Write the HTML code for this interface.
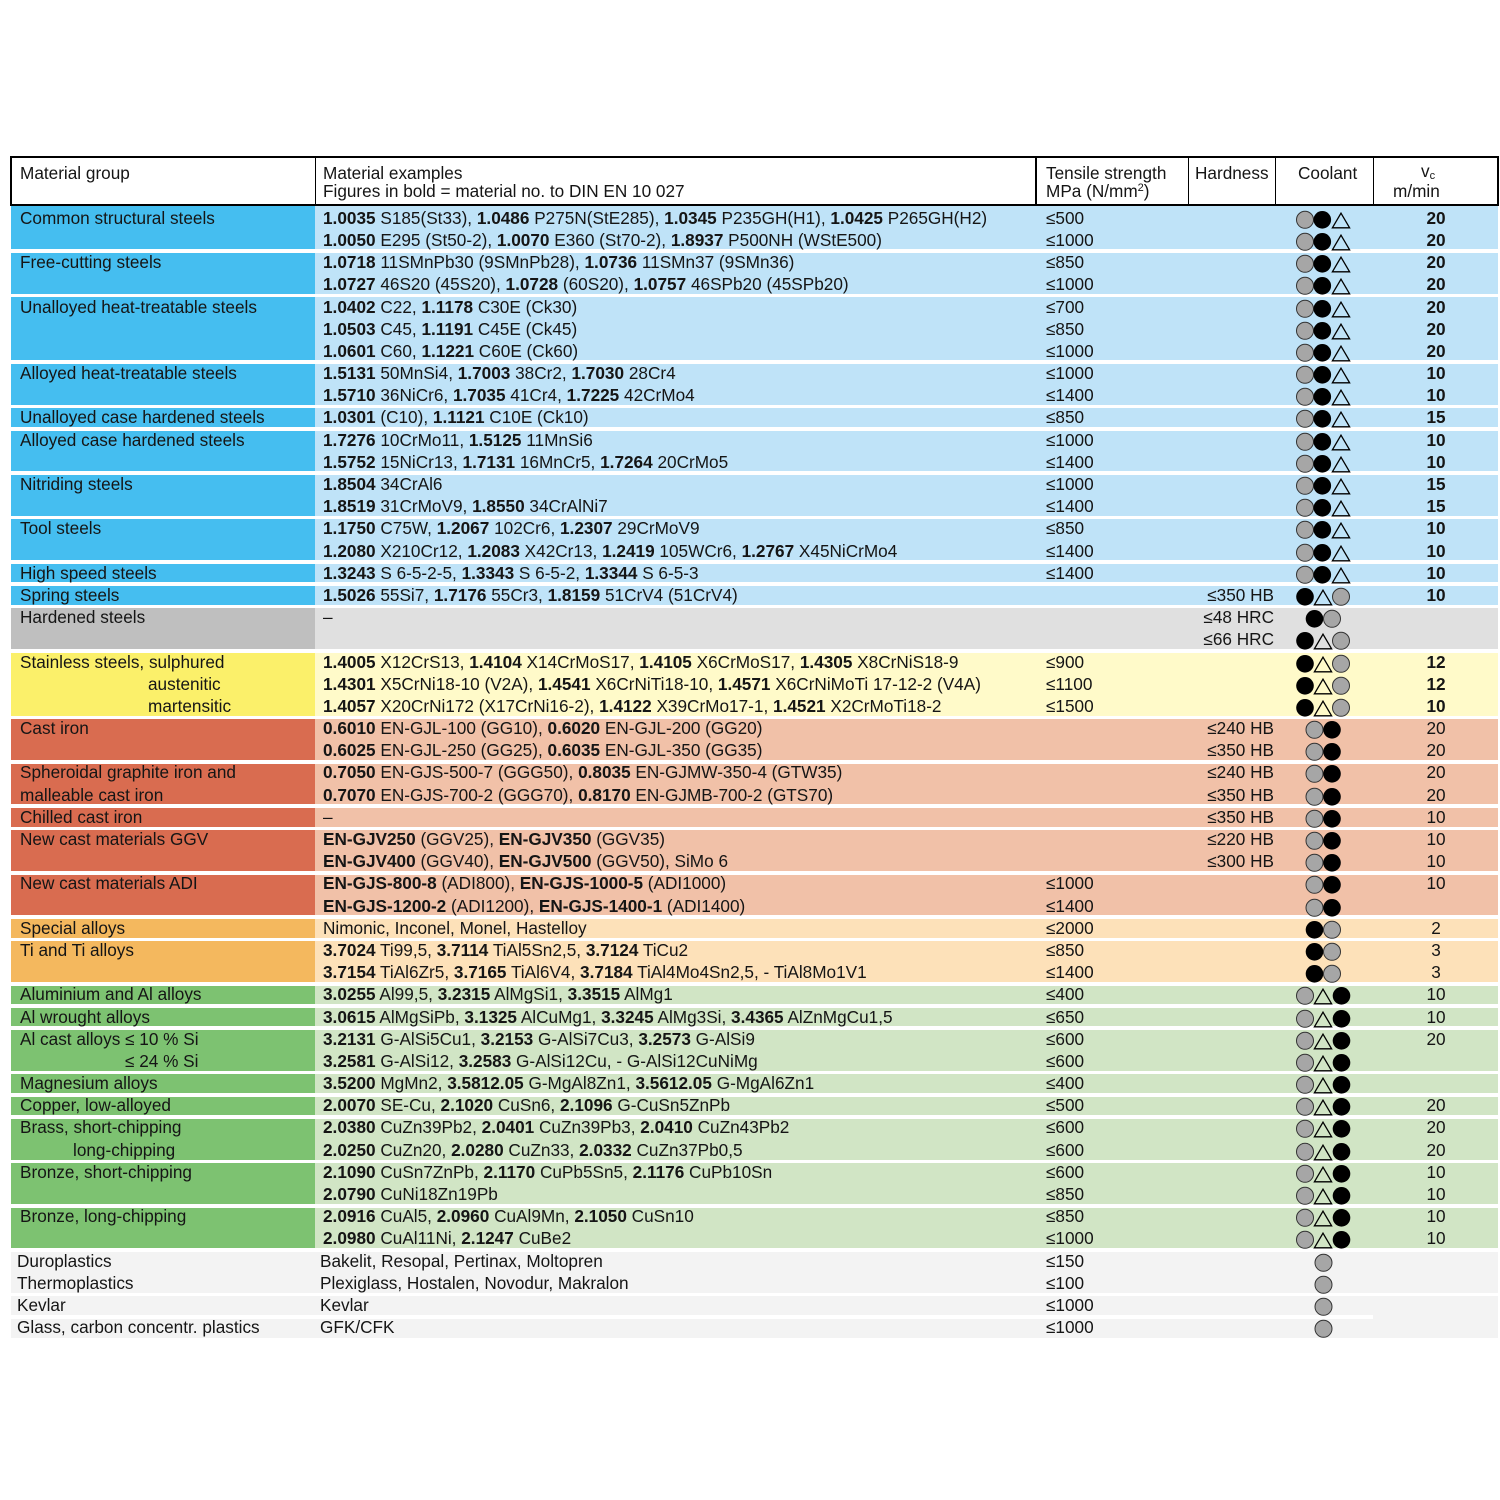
<!DOCTYPE html>
<html><head><meta charset="utf-8">
<style>
html,body{margin:0;padding:0;background:#fff;}
body{width:1500px;height:1500px;position:relative;overflow:hidden;font-family:"Liberation Sans",Arial,sans-serif;font-size:17.2px;color:#151515;}
.bg{position:absolute;}
.bl{left:11px;width:304px;}
.br{left:315px;width:1183px;}
.s1{background:#45bef0}.s2{background:#bfe3f8}
.h1{background:#bfbfbf}.h2{background:#e0e0e0}
.y1{background:#fbf06a}.y2{background:#fffac9}
.c1{background:#d96c50}.c2{background:#f1c1a8}
.o1{background:#f4b85e}.o2{background:#fde1b9}
.g1{background:#7dc271}.g2{background:#d1e5c5}
.p{background:#f3f3f3}
#hd{position:absolute;left:10px;top:156px;width:1485px;height:46px;border:2px solid #000;background:#fff;}
.vl{position:absolute;top:157px;height:48px;width:1.5px;background:#000;}
.ht{position:absolute;top:165.3px;line-height:17.5px;white-space:nowrap;}
#rows{position:absolute;left:0;top:206.8px;width:1500px;}
.r{position:relative;height:22.2px;line-height:22.2px;white-space:nowrap;}
.r>span{position:absolute;top:0;}
.g{left:20px}.e{left:323px}.t{left:1046px}
.h{right:226px}
.v{left:1373px;width:126px;text-align:center}
.vb{font-weight:bold}
.pl .g{left:17px}.pl .e{left:320px}
svg.c{position:absolute;left:1290px;top:0;overflow:visible}
sup{font-size:11px;vertical-align:6px;line-height:0}
sub{font-size:11px;vertical-align:-2px;line-height:0}
</style></head><body>

<!-- header -->
<div id="hd"></div>
<div class="vl" style="left:314.5px"></div>
<div class="vl" style="left:1035px"></div>
<div class="vl" style="left:1187.5px"></div>
<div class="vl" style="left:1274.5px"></div>
<div class="vl" style="left:1372.5px"></div>
<div class="ht" style="left:20px">Material group</div>
<div class="ht" style="left:323px">Material examples<br>Figures in bold = material no. to DIN EN 10 027</div>
<div class="ht" style="left:1046px">Tensile strength<br>MPa (N/mm<sup>2</sup>)</div>
<div class="ht" style="left:1195px">Hardness</div>
<div class="ht" style="left:1298px">Coolant</div>
<div class="ht" style="left:1421px;top:163px">v<sub>c</sub></div>
<div class="ht" style="left:1393px;top:183px">m/min</div>

<!-- backgrounds -->
<div class="bg bl s1" style="top:206px;height:43.45px"></div><div class="bg br s2" style="top:206px;height:43.45px"></div>
<div class="bg bl s1" style="top:252.95px;height:40.9px"></div><div class="bg br s2" style="top:252.95px;height:40.9px"></div>
<div class="bg bl s1" style="top:297.35px;height:63.1px"></div><div class="bg br s2" style="top:297.35px;height:63.1px"></div>
<div class="bg bl s1" style="top:363.95px;height:40.9px"></div><div class="bg br s2" style="top:363.95px;height:40.9px"></div>
<div class="bg bl s1" style="top:408.35px;height:18.7px"></div><div class="bg br s2" style="top:408.35px;height:18.7px"></div>
<div class="bg bl s1" style="top:430.55px;height:40.9px"></div><div class="bg br s2" style="top:430.55px;height:40.9px"></div>
<div class="bg bl s1" style="top:474.95px;height:40.9px"></div><div class="bg br s2" style="top:474.95px;height:40.9px"></div>
<div class="bg bl s1" style="top:519.35px;height:40.9px"></div><div class="bg br s2" style="top:519.35px;height:40.9px"></div>
<div class="bg bl s1" style="top:563.75px;height:18.7px"></div><div class="bg br s2" style="top:563.75px;height:18.7px"></div>
<div class="bg bl s1" style="top:585.95px;height:18.7px"></div><div class="bg br s2" style="top:585.95px;height:18.7px"></div>
<div class="bg bl h1" style="top:608.15px;height:40.9px"></div><div class="bg br h2" style="top:608.15px;height:40.9px"></div>
<div class="bg bl y1" style="top:652.55px;height:63.1px"></div><div class="bg br y2" style="top:652.55px;height:63.1px"></div>
<div class="bg bl c1" style="top:719.15px;height:40.9px"></div><div class="bg br c2" style="top:719.15px;height:40.9px"></div>
<div class="bg bl c1" style="top:763.55px;height:40.9px"></div><div class="bg br c2" style="top:763.55px;height:40.9px"></div>
<div class="bg bl c1" style="top:807.95px;height:18.7px"></div><div class="bg br c2" style="top:807.95px;height:18.7px"></div>
<div class="bg bl c1" style="top:830.15px;height:40.9px"></div><div class="bg br c2" style="top:830.15px;height:40.9px"></div>
<div class="bg bl c1" style="top:874.55px;height:40.9px"></div><div class="bg br c2" style="top:874.55px;height:40.9px"></div>
<div class="bg bl o1" style="top:918.95px;height:18.7px"></div><div class="bg br o2" style="top:918.95px;height:18.7px"></div>
<div class="bg bl o1" style="top:941.15px;height:40.9px"></div><div class="bg br o2" style="top:941.15px;height:40.9px"></div>
<div class="bg bl g1" style="top:985.55px;height:18.7px"></div><div class="bg br g2" style="top:985.55px;height:18.7px"></div>
<div class="bg bl g1" style="top:1007.75px;height:18.7px"></div><div class="bg br g2" style="top:1007.75px;height:18.7px"></div>
<div class="bg bl g1" style="top:1029.95px;height:40.9px"></div><div class="bg br g2" style="top:1029.95px;height:40.9px"></div>
<div class="bg bl g1" style="top:1074.35px;height:18.7px"></div><div class="bg br g2" style="top:1074.35px;height:18.7px"></div>
<div class="bg bl g1" style="top:1096.55px;height:18.7px"></div><div class="bg br g2" style="top:1096.55px;height:18.7px"></div>
<div class="bg bl g1" style="top:1118.75px;height:40.9px"></div><div class="bg br g2" style="top:1118.75px;height:40.9px"></div>
<div class="bg bl g1" style="top:1163.15px;height:40.9px"></div><div class="bg br g2" style="top:1163.15px;height:40.9px"></div>
<div class="bg bl g1" style="top:1207.55px;height:40.9px"></div><div class="bg br g2" style="top:1207.55px;height:40.9px"></div>
<div class="bg p" style="left:11px;width:1362px;top:1251.95px;height:40.9px"></div>
<div class="bg p" style="left:11px;width:1362px;top:1296.35px;height:18.7px"></div>
<div class="bg p" style="left:11px;width:1362px;top:1318.55px;height:19.95px"></div>
<div class="bg p" style="left:1373px;width:125px;top:1251.95px;height:40.9px"></div>
<div class="bg p" style="left:1373px;width:125px;top:1296.35px;height:42.15px"></div>

<div id="rows">
<!-- 0 -->
<div class="r"><span class="g">Common structural steels</span><span class="e"><b>1.0035</b> S185(St33), <b>1.0486</b> P275N(StE285), <b>1.0345</b> P235GH(H1), <b>1.0425</b> P265GH(H2)</span><span class="t">≤500</span><span class="v vb">20</span><svg class="c" width="70" height="22"><circle cx="15" cy="12.8" r="8.5" fill="#a6a6a6" stroke="#333"/><circle cx="32.3" cy="12.8" r="8.8"/><path d="M51 6.2L59.6 20.8H42.4Z" fill="none" stroke="#000" stroke-width="1.3"/></svg></div>
<div class="r"><span class="e"><b>1.0050</b> E295 (St50-2), <b>1.0070</b> E360 (St70-2), <b>1.8937</b> P500NH (WStE500)</span><span class="t">≤1000</span><span class="v vb">20</span><svg class="c" width="70" height="22"><circle cx="15" cy="12.8" r="8.5" fill="#a6a6a6" stroke="#333"/><circle cx="32.3" cy="12.8" r="8.8"/><path d="M51 6.2L59.6 20.8H42.4Z" fill="none" stroke="#000" stroke-width="1.3"/></svg></div>
<!-- 2 -->
<div class="r"><span class="g">Free-cutting steels</span><span class="e"><b>1.0718</b> 11SMnPb30 (9SMnPb28), <b>1.0736</b> 11SMn37 (9SMn36)</span><span class="t">≤850</span><span class="v vb">20</span><svg class="c" width="70" height="22"><circle cx="15" cy="12.8" r="8.5" fill="#a6a6a6" stroke="#333"/><circle cx="32.3" cy="12.8" r="8.8"/><path d="M51 6.2L59.6 20.8H42.4Z" fill="none" stroke="#000" stroke-width="1.3"/></svg></div>
<div class="r"><span class="e"><b>1.0727</b> 46S20 (45S20), <b>1.0728</b> (60S20), <b>1.0757</b> 46SPb20 (45SPb20)</span><span class="t">≤1000</span><span class="v vb">20</span><svg class="c" width="70" height="22"><circle cx="15" cy="12.8" r="8.5" fill="#a6a6a6" stroke="#333"/><circle cx="32.3" cy="12.8" r="8.8"/><path d="M51 6.2L59.6 20.8H42.4Z" fill="none" stroke="#000" stroke-width="1.3"/></svg></div>
<!-- 4 -->
<div class="r"><span class="g">Unalloyed heat-treatable steels</span><span class="e"><b>1.0402</b> C22, <b>1.1178</b> C30E (Ck30)</span><span class="t">≤700</span><span class="v vb">20</span><svg class="c" width="70" height="22"><circle cx="15" cy="12.8" r="8.5" fill="#a6a6a6" stroke="#333"/><circle cx="32.3" cy="12.8" r="8.8"/><path d="M51 6.2L59.6 20.8H42.4Z" fill="none" stroke="#000" stroke-width="1.3"/></svg></div>
<div class="r"><span class="e"><b>1.0503</b> C45, <b>1.1191</b> C45E (Ck45)</span><span class="t">≤850</span><span class="v vb">20</span><svg class="c" width="70" height="22"><circle cx="15" cy="12.8" r="8.5" fill="#a6a6a6" stroke="#333"/><circle cx="32.3" cy="12.8" r="8.8"/><path d="M51 6.2L59.6 20.8H42.4Z" fill="none" stroke="#000" stroke-width="1.3"/></svg></div>
<div class="r"><span class="e"><b>1.0601</b> C60, <b>1.1221</b> C60E (Ck60)</span><span class="t">≤1000</span><span class="v vb">20</span><svg class="c" width="70" height="22"><circle cx="15" cy="12.8" r="8.5" fill="#a6a6a6" stroke="#333"/><circle cx="32.3" cy="12.8" r="8.8"/><path d="M51 6.2L59.6 20.8H42.4Z" fill="none" stroke="#000" stroke-width="1.3"/></svg></div>
<!-- 7 -->
<div class="r"><span class="g">Alloyed heat-treatable steels</span><span class="e"><b>1.5131</b> 50MnSi4, <b>1.7003</b> 38Cr2, <b>1.7030</b> 28Cr4</span><span class="t">≤1000</span><span class="v vb">10</span><svg class="c" width="70" height="22"><circle cx="15" cy="12.8" r="8.5" fill="#a6a6a6" stroke="#333"/><circle cx="32.3" cy="12.8" r="8.8"/><path d="M51 6.2L59.6 20.8H42.4Z" fill="none" stroke="#000" stroke-width="1.3"/></svg></div>
<div class="r"><span class="e"><b>1.5710</b> 36NiCr6, <b>1.7035</b> 41Cr4, <b>1.7225</b> 42CrMo4</span><span class="t">≤1400</span><span class="v vb">10</span><svg class="c" width="70" height="22"><circle cx="15" cy="12.8" r="8.5" fill="#a6a6a6" stroke="#333"/><circle cx="32.3" cy="12.8" r="8.8"/><path d="M51 6.2L59.6 20.8H42.4Z" fill="none" stroke="#000" stroke-width="1.3"/></svg></div>
<!-- 9 -->
<div class="r"><span class="g">Unalloyed case hardened steels</span><span class="e"><b>1.0301</b> (C10), <b>1.1121</b> C10E (Ck10)</span><span class="t">≤850</span><span class="v vb">15</span><svg class="c" width="70" height="22"><circle cx="15" cy="12.8" r="8.5" fill="#a6a6a6" stroke="#333"/><circle cx="32.3" cy="12.8" r="8.8"/><path d="M51 6.2L59.6 20.8H42.4Z" fill="none" stroke="#000" stroke-width="1.3"/></svg></div>
<!-- 10 -->
<div class="r"><span class="g">Alloyed case hardened steels</span><span class="e"><b>1.7276</b> 10CrMo11, <b>1.5125</b> 11MnSi6</span><span class="t">≤1000</span><span class="v vb">10</span><svg class="c" width="70" height="22"><circle cx="15" cy="12.8" r="8.5" fill="#a6a6a6" stroke="#333"/><circle cx="32.3" cy="12.8" r="8.8"/><path d="M51 6.2L59.6 20.8H42.4Z" fill="none" stroke="#000" stroke-width="1.3"/></svg></div>
<div class="r"><span class="e"><b>1.5752</b> 15NiCr13, <b>1.7131</b> 16MnCr5, <b>1.7264</b> 20CrMo5</span><span class="t">≤1400</span><span class="v vb">10</span><svg class="c" width="70" height="22"><circle cx="15" cy="12.8" r="8.5" fill="#a6a6a6" stroke="#333"/><circle cx="32.3" cy="12.8" r="8.8"/><path d="M51 6.2L59.6 20.8H42.4Z" fill="none" stroke="#000" stroke-width="1.3"/></svg></div>
<!-- 12 -->
<div class="r"><span class="g">Nitriding steels</span><span class="e"><b>1.8504</b> 34CrAl6</span><span class="t">≤1000</span><span class="v vb">15</span><svg class="c" width="70" height="22"><circle cx="15" cy="12.8" r="8.5" fill="#a6a6a6" stroke="#333"/><circle cx="32.3" cy="12.8" r="8.8"/><path d="M51 6.2L59.6 20.8H42.4Z" fill="none" stroke="#000" stroke-width="1.3"/></svg></div>
<div class="r"><span class="e"><b>1.8519</b> 31CrMoV9, <b>1.8550</b> 34CrAlNi7</span><span class="t">≤1400</span><span class="v vb">15</span><svg class="c" width="70" height="22"><circle cx="15" cy="12.8" r="8.5" fill="#a6a6a6" stroke="#333"/><circle cx="32.3" cy="12.8" r="8.8"/><path d="M51 6.2L59.6 20.8H42.4Z" fill="none" stroke="#000" stroke-width="1.3"/></svg></div>
<!-- 14 -->
<div class="r"><span class="g">Tool steels</span><span class="e"><b>1.1750</b> C75W, <b>1.2067</b> 102Cr6, <b>1.2307</b> 29CrMoV9</span><span class="t">≤850</span><span class="v vb">10</span><svg class="c" width="70" height="22"><circle cx="15" cy="12.8" r="8.5" fill="#a6a6a6" stroke="#333"/><circle cx="32.3" cy="12.8" r="8.8"/><path d="M51 6.2L59.6 20.8H42.4Z" fill="none" stroke="#000" stroke-width="1.3"/></svg></div>
<div class="r"><span class="e"><b>1.2080</b> X210Cr12, <b>1.2083</b> X42Cr13, <b>1.2419</b> 105WCr6, <b>1.2767</b> X45NiCrMo4</span><span class="t">≤1400</span><span class="v vb">10</span><svg class="c" width="70" height="22"><circle cx="15" cy="12.8" r="8.5" fill="#a6a6a6" stroke="#333"/><circle cx="32.3" cy="12.8" r="8.8"/><path d="M51 6.2L59.6 20.8H42.4Z" fill="none" stroke="#000" stroke-width="1.3"/></svg></div>
<!-- 16 -->
<div class="r"><span class="g">High speed steels</span><span class="e"><b>1.3243</b> S 6-5-2-5, <b>1.3343</b> S 6-5-2, <b>1.3344</b> S 6-5-3</span><span class="t">≤1400</span><span class="v vb">10</span><svg class="c" width="70" height="22"><circle cx="15" cy="12.8" r="8.5" fill="#a6a6a6" stroke="#333"/><circle cx="32.3" cy="12.8" r="8.8"/><path d="M51 6.2L59.6 20.8H42.4Z" fill="none" stroke="#000" stroke-width="1.3"/></svg></div>
<!-- 17 -->
<div class="r"><span class="g">Spring steels</span><span class="e"><b>1.5026</b> 55Si7, <b>1.7176</b> 55Cr3, <b>1.8159</b> 51CrV4 (51CrV4)</span><span class="h">≤350 HB</span><span class="v vb">10</span><svg class="c" width="70" height="22"><circle cx="15" cy="12.8" r="8.8"/><path d="M33 6.2L41.6 20.8H24.4Z" fill="none" stroke="#000" stroke-width="1.3"/><circle cx="51" cy="12.8" r="8.5" fill="#a6a6a6" stroke="#333"/></svg></div>
<!-- 18 -->
<div class="r"><span class="g">Hardened steels</span><span class="e">–</span><span class="h">≤48 HRC</span><svg class="c" width="70" height="22"><circle cx="24.5" cy="12.8" r="8.8"/><circle cx="42" cy="12.8" r="8.5" fill="#a6a6a6" stroke="#333"/></svg></div>
<div class="r"><span class="h">≤66 HRC</span><svg class="c" width="70" height="22"><circle cx="15" cy="12.8" r="8.8"/><path d="M33 6.2L41.6 20.8H24.4Z" fill="none" stroke="#000" stroke-width="1.3"/><circle cx="51" cy="12.8" r="8.5" fill="#a6a6a6" stroke="#333"/></svg></div>
<!-- 20 -->
<div class="r"><span class="g">Stainless steels, sulphured</span><span class="e"><b>1.4005</b> X12CrS13, <b>1.4104</b> X14CrMoS17, <b>1.4105</b> X6CrMoS17, <b>1.4305</b> X8CrNiS18-9</span><span class="t">≤900</span><span class="v vb">12</span><svg class="c" width="70" height="22"><circle cx="15" cy="12.8" r="8.8"/><path d="M33 6.2L41.6 20.8H24.4Z" fill="none" stroke="#000" stroke-width="1.3"/><circle cx="51" cy="12.8" r="8.5" fill="#a6a6a6" stroke="#333"/></svg></div>
<div class="r"><span class="g" style="left:148px">austenitic</span><span class="e"><b>1.4301</b> X5CrNi18-10 (V2A), <b>1.4541</b> X6CrNiTi18-10, <b>1.4571</b> X6CrNiMoTi 17-12-2 (V4A)</span><span class="t">≤1100</span><span class="v vb">12</span><svg class="c" width="70" height="22"><circle cx="15" cy="12.8" r="8.8"/><path d="M33 6.2L41.6 20.8H24.4Z" fill="none" stroke="#000" stroke-width="1.3"/><circle cx="51" cy="12.8" r="8.5" fill="#a6a6a6" stroke="#333"/></svg></div>
<div class="r"><span class="g" style="left:148px">martensitic</span><span class="e"><b>1.4057</b> X20CrNi172 (X17CrNi16-2), <b>1.4122</b> X39CrMo17-1, <b>1.4521</b> X2CrMoTi18-2</span><span class="t">≤1500</span><span class="v vb">10</span><svg class="c" width="70" height="22"><circle cx="15" cy="12.8" r="8.8"/><path d="M33 6.2L41.6 20.8H24.4Z" fill="none" stroke="#000" stroke-width="1.3"/><circle cx="51" cy="12.8" r="8.5" fill="#a6a6a6" stroke="#333"/></svg></div>
<!-- 23 -->
<div class="r"><span class="g">Cast iron</span><span class="e"><b>0.6010</b> EN-GJL-100 (GG10), <b>0.6020</b> EN-GJL-200 (GG20)</span><span class="h">≤240 HB</span><span class="v">20</span><svg class="c" width="70" height="22"><circle cx="24.5" cy="12.8" r="8.5" fill="#a6a6a6" stroke="#333"/><circle cx="42" cy="12.8" r="8.8"/></svg></div>
<div class="r"><span class="e"><b>0.6025</b> EN-GJL-250 (GG25), <b>0.6035</b> EN-GJL-350 (GG35)</span><span class="h">≤350 HB</span><span class="v">20</span><svg class="c" width="70" height="22"><circle cx="24.5" cy="12.8" r="8.5" fill="#a6a6a6" stroke="#333"/><circle cx="42" cy="12.8" r="8.8"/></svg></div>
<!-- 25 -->
<div class="r"><span class="g">Spheroidal graphite iron and</span><span class="e"><b>0.7050</b> EN-GJS-500-7 (GGG50), <b>0.8035</b> EN-GJMW-350-4 (GTW35)</span><span class="h">≤240 HB</span><span class="v">20</span><svg class="c" width="70" height="22"><circle cx="24.5" cy="12.8" r="8.5" fill="#a6a6a6" stroke="#333"/><circle cx="42" cy="12.8" r="8.8"/></svg></div>
<div class="r"><span class="g">malleable cast iron</span><span class="e"><b>0.7070</b> EN-GJS-700-2 (GGG70), <b>0.8170</b> EN-GJMB-700-2 (GTS70)</span><span class="h">≤350 HB</span><span class="v">20</span><svg class="c" width="70" height="22"><circle cx="24.5" cy="12.8" r="8.5" fill="#a6a6a6" stroke="#333"/><circle cx="42" cy="12.8" r="8.8"/></svg></div>
<!-- 27 -->
<div class="r"><span class="g">Chilled cast iron</span><span class="e">–</span><span class="h">≤350 HB</span><span class="v">10</span><svg class="c" width="70" height="22"><circle cx="24.5" cy="12.8" r="8.5" fill="#a6a6a6" stroke="#333"/><circle cx="42" cy="12.8" r="8.8"/></svg></div>
<!-- 28 -->
<div class="r"><span class="g">New cast materials GGV</span><span class="e"><b>EN-GJV250</b> (GGV25), <b>EN-GJV350</b> (GGV35)</span><span class="h">≤220 HB</span><span class="v">10</span><svg class="c" width="70" height="22"><circle cx="24.5" cy="12.8" r="8.5" fill="#a6a6a6" stroke="#333"/><circle cx="42" cy="12.8" r="8.8"/></svg></div>
<div class="r"><span class="e"><b>EN-GJV400</b> (GGV40), <b>EN-GJV500</b> (GGV50), SiMo 6</span><span class="h">≤300 HB</span><span class="v">10</span><svg class="c" width="70" height="22"><circle cx="24.5" cy="12.8" r="8.5" fill="#a6a6a6" stroke="#333"/><circle cx="42" cy="12.8" r="8.8"/></svg></div>
<!-- 30 -->
<div class="r"><span class="g">New cast materials ADI</span><span class="e"><b>EN-GJS-800-8</b> (ADI800), <b>EN-GJS-1000-5</b> (ADI1000)</span><span class="t">≤1000</span><span class="v">10</span><svg class="c" width="70" height="22"><circle cx="24.5" cy="12.8" r="8.5" fill="#a6a6a6" stroke="#333"/><circle cx="42" cy="12.8" r="8.8"/></svg></div>
<div class="r"><span class="e"><b>EN-GJS-1200-2</b> (ADI1200), <b>EN-GJS-1400-1</b> (ADI1400)</span><span class="t">≤1400</span><svg class="c" width="70" height="22"><circle cx="24.5" cy="12.8" r="8.5" fill="#a6a6a6" stroke="#333"/><circle cx="42" cy="12.8" r="8.8"/></svg></div>
<!-- 32 -->
<div class="r"><span class="g">Special alloys</span><span class="e">Nimonic, Inconel, Monel, Hastelloy</span><span class="t">≤2000</span><span class="v">2</span><svg class="c" width="70" height="22"><circle cx="24.5" cy="12.8" r="8.8"/><circle cx="42" cy="12.8" r="8.5" fill="#a6a6a6" stroke="#333"/></svg></div>
<!-- 33 -->
<div class="r"><span class="g">Ti and Ti alloys</span><span class="e"><b>3.7024</b> Ti99,5, <b>3.7114</b> TiAl5Sn2,5, <b>3.7124</b> TiCu2</span><span class="t">≤850</span><span class="v">3</span><svg class="c" width="70" height="22"><circle cx="24.5" cy="12.8" r="8.8"/><circle cx="42" cy="12.8" r="8.5" fill="#a6a6a6" stroke="#333"/></svg></div>
<div class="r"><span class="e"><b>3.7154</b> TiAl6Zr5, <b>3.7165</b> TiAl6V4, <b>3.7184</b> TiAl4Mo4Sn2,5, - TiAl8Mo1V1</span><span class="t">≤1400</span><span class="v">3</span><svg class="c" width="70" height="22"><circle cx="24.5" cy="12.8" r="8.8"/><circle cx="42" cy="12.8" r="8.5" fill="#a6a6a6" stroke="#333"/></svg></div>
<!-- 35 -->
<div class="r"><span class="g">Aluminium and Al alloys</span><span class="e"><b>3.0255</b> Al99,5, <b>3.2315</b> AlMgSi1, <b>3.3515</b> AlMg1</span><span class="t">≤400</span><span class="v">10</span><svg class="c" width="70" height="22"><circle cx="15" cy="12.8" r="8.5" fill="#a6a6a6" stroke="#333"/><path d="M33 6.2L41.6 20.8H24.4Z" fill="none" stroke="#000" stroke-width="1.3"/><circle cx="51.5" cy="12.8" r="8.8"/></svg></div>
<!-- 36 -->
<div class="r"><span class="g">Al wrought alloys</span><span class="e"><b>3.0615</b> AlMgSiPb, <b>3.1325</b> AlCuMg1, <b>3.3245</b> AlMg3Si, <b>3.4365</b> AlZnMgCu1,5</span><span class="t">≤650</span><span class="v">10</span><svg class="c" width="70" height="22"><circle cx="15" cy="12.8" r="8.5" fill="#a6a6a6" stroke="#333"/><path d="M33 6.2L41.6 20.8H24.4Z" fill="none" stroke="#000" stroke-width="1.3"/><circle cx="51.5" cy="12.8" r="8.8"/></svg></div>
<!-- 37 -->
<div class="r"><span class="g">Al cast alloys ≤ 10 % Si</span><span class="e"><b>3.2131</b> G-AlSi5Cu1, <b>3.2153</b> G-AlSi7Cu3, <b>3.2573</b> G-AlSi9</span><span class="t">≤600</span><span class="v">20</span><svg class="c" width="70" height="22"><circle cx="15" cy="12.8" r="8.5" fill="#a6a6a6" stroke="#333"/><path d="M33 6.2L41.6 20.8H24.4Z" fill="none" stroke="#000" stroke-width="1.3"/><circle cx="51.5" cy="12.8" r="8.8"/></svg></div>
<div class="r"><span class="g" style="left:125px">≤ 24 % Si</span><span class="e"><b>3.2581</b> G-AlSi12, <b>3.2583</b> G-AlSi12Cu, - G-AlSi12CuNiMg</span><span class="t">≤600</span><svg class="c" width="70" height="22"><circle cx="15" cy="12.8" r="8.5" fill="#a6a6a6" stroke="#333"/><path d="M33 6.2L41.6 20.8H24.4Z" fill="none" stroke="#000" stroke-width="1.3"/><circle cx="51.5" cy="12.8" r="8.8"/></svg></div>
<!-- 39 -->
<div class="r"><span class="g">Magnesium alloys</span><span class="e"><b>3.5200</b> MgMn2, <b>3.5812.05</b> G-MgAl8Zn1, <b>3.5612.05</b> G-MgAl6Zn1</span><span class="t">≤400</span><svg class="c" width="70" height="22"><circle cx="15" cy="12.8" r="8.5" fill="#a6a6a6" stroke="#333"/><path d="M33 6.2L41.6 20.8H24.4Z" fill="none" stroke="#000" stroke-width="1.3"/><circle cx="51.5" cy="12.8" r="8.8"/></svg></div>
<!-- 40 -->
<div class="r"><span class="g">Copper, low-alloyed</span><span class="e"><b>2.0070</b> SE-Cu, <b>2.1020</b> CuSn6, <b>2.1096</b> G-CuSn5ZnPb</span><span class="t">≤500</span><span class="v">20</span><svg class="c" width="70" height="22"><circle cx="15" cy="12.8" r="8.5" fill="#a6a6a6" stroke="#333"/><path d="M33 6.2L41.6 20.8H24.4Z" fill="none" stroke="#000" stroke-width="1.3"/><circle cx="51.5" cy="12.8" r="8.8"/></svg></div>
<!-- 41 -->
<div class="r"><span class="g">Brass, short-chipping</span><span class="e"><b>2.0380</b> CuZn39Pb2, <b>2.0401</b> CuZn39Pb3, <b>2.0410</b> CuZn43Pb2</span><span class="t">≤600</span><span class="v">20</span><svg class="c" width="70" height="22"><circle cx="15" cy="12.8" r="8.5" fill="#a6a6a6" stroke="#333"/><path d="M33 6.2L41.6 20.8H24.4Z" fill="none" stroke="#000" stroke-width="1.3"/><circle cx="51.5" cy="12.8" r="8.8"/></svg></div>
<div class="r"><span class="g" style="left:73px">long-chipping</span><span class="e"><b>2.0250</b> CuZn20, <b>2.0280</b> CuZn33, <b>2.0332</b> CuZn37Pb0,5</span><span class="t">≤600</span><span class="v">20</span><svg class="c" width="70" height="22"><circle cx="15" cy="12.8" r="8.5" fill="#a6a6a6" stroke="#333"/><path d="M33 6.2L41.6 20.8H24.4Z" fill="none" stroke="#000" stroke-width="1.3"/><circle cx="51.5" cy="12.8" r="8.8"/></svg></div>
<!-- 43 -->
<div class="r"><span class="g">Bronze, short-chipping</span><span class="e"><b>2.1090</b> CuSn7ZnPb, <b>2.1170</b> CuPb5Sn5, <b>2.1176</b> CuPb10Sn</span><span class="t">≤600</span><span class="v">10</span><svg class="c" width="70" height="22"><circle cx="15" cy="12.8" r="8.5" fill="#a6a6a6" stroke="#333"/><path d="M33 6.2L41.6 20.8H24.4Z" fill="none" stroke="#000" stroke-width="1.3"/><circle cx="51.5" cy="12.8" r="8.8"/></svg></div>
<div class="r"><span class="e"><b>2.0790</b> CuNi18Zn19Pb</span><span class="t">≤850</span><span class="v">10</span><svg class="c" width="70" height="22"><circle cx="15" cy="12.8" r="8.5" fill="#a6a6a6" stroke="#333"/><path d="M33 6.2L41.6 20.8H24.4Z" fill="none" stroke="#000" stroke-width="1.3"/><circle cx="51.5" cy="12.8" r="8.8"/></svg></div>
<!-- 45 -->
<div class="r"><span class="g">Bronze, long-chipping</span><span class="e"><b>2.0916</b> CuAl5, <b>2.0960</b> CuAl9Mn, <b>2.1050</b> CuSn10</span><span class="t">≤850</span><span class="v">10</span><svg class="c" width="70" height="22"><circle cx="15" cy="12.8" r="8.5" fill="#a6a6a6" stroke="#333"/><path d="M33 6.2L41.6 20.8H24.4Z" fill="none" stroke="#000" stroke-width="1.3"/><circle cx="51.5" cy="12.8" r="8.8"/></svg></div>
<div class="r"><span class="e"><b>2.0980</b> CuAl11Ni, <b>2.1247</b> CuBe2</span><span class="t">≤1000</span><span class="v">10</span><svg class="c" width="70" height="22"><circle cx="15" cy="12.8" r="8.5" fill="#a6a6a6" stroke="#333"/><path d="M33 6.2L41.6 20.8H24.4Z" fill="none" stroke="#000" stroke-width="1.3"/><circle cx="51.5" cy="12.8" r="8.8"/></svg></div>
<!-- 47 plastics -->
<div class="r pl"><span class="g">Duroplastics</span><span class="e">Bakelit, Resopal, Pertinax, Moltopren</span><span class="t">≤150</span><svg class="c" width="70" height="22"><circle cx="33.5" cy="12.8" r="8.5" fill="#a6a6a6" stroke="#333"/></svg></div>
<div class="r pl"><span class="g">Thermoplastics</span><span class="e">Plexiglass, Hostalen, Novodur, Makralon</span><span class="t">≤100</span><svg class="c" width="70" height="22"><circle cx="33.5" cy="12.8" r="8.5" fill="#a6a6a6" stroke="#333"/></svg></div>
<div class="r pl"><span class="g">Kevlar</span><span class="e">Kevlar</span><span class="t">≤1000</span><svg class="c" width="70" height="22"><circle cx="33.5" cy="12.8" r="8.5" fill="#a6a6a6" stroke="#333"/></svg></div>
<div class="r pl"><span class="g">Glass, carbon concentr. plastics</span><span class="e">GFK/CFK</span><span class="t">≤1000</span><svg class="c" width="70" height="22"><circle cx="33.5" cy="12.8" r="8.5" fill="#a6a6a6" stroke="#333"/></svg></div>
</div>
</body></html>
